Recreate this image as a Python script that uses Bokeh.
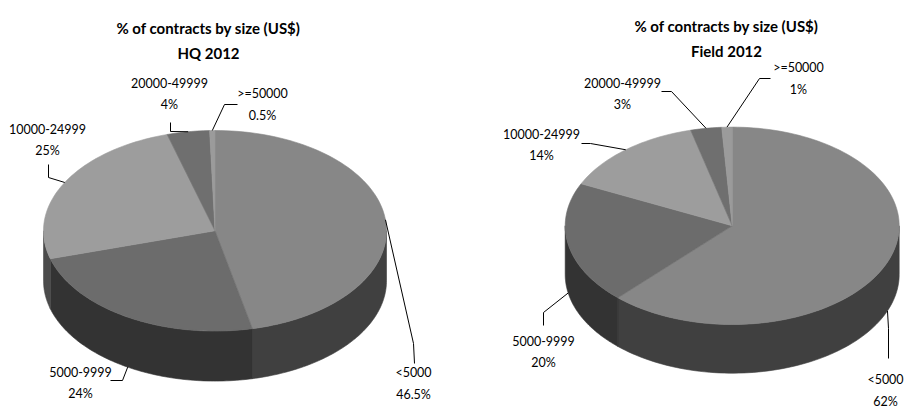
import numpy as np
from bokeh.plotting import figure
from bokeh.models import Range1d
from bokeh.core.properties import value
from bokeh.embed import file_html
from bokeh.resources import INLINE

# Contract-size categories, in the order the slices run clockwise from 12 o'clock
categories = ["<5000", "5000-9999", "10000-24999", "20000-49999", ">=50000"]
hq_share = [46.5, 24, 25, 4, 0.5]
field_share = [62, 20, 14, 3, 1]
hq_labels = ["46.5%", "24%", "25%", "4%", "0.5%"]
field_labels = ["62%", "20%", "14%", "3%", "1%"]

title_line = "% of contracts by size (US$)"
hq_title = "HQ 2012"
field_title = "Field 2012"

# Slice tops and the darker outer walls
top_colors = ["#878787", "#6c6c6c", "#9d9d9d", "#6f6f6f", "#9b9b9b"]
side_colors = ["#404040", "#333333", "#4b4b4b", "#363636", "#4a4a4a"]

FONT = "Lato"

# Pie placement (screen pixels, y grows downward)
hq_geom = dict(cx=214.5, cy=230.3, rx=171.5, ry=100.3, depth=50)
field_geom = dict(cx=731.7, cy=225.3, rx=167, ry=98.7, depth=48.7)

# Label anchors: (centre x, first line y) and leader path start + elbow
hq_label_pos = [(413, 372), (80, 371), (47, 128), (169, 82), (262, 93)]
hq_leader = [[(414, 363), (413, 343)], [(110, 380), (122, 380)],
             [(48, 164), (48, 177)], [(170, 122), (170, 131)],
             [(237, 104), (224, 104)]]
field_label_pos = [(885, 379), (543, 340), (541, 133), (622, 82), (798, 67)]
field_leader = [[(888, 358), (888, 328)], [(543, 325), (543, 312)],
                [(581, 143), (590, 143)], [(661, 91), (671, 91)],
                [(770, 78), (759, 78)]]

W, H = 906, 409
p = figure(width=W, height=H, output_backend="svg", toolbar_location=None,
           x_range=Range1d(0, W), y_range=Range1d(H, 0),
           min_border=0, outline_line_color=None, background_fill_color="white")
p.axis.visible = False
p.grid.visible = False


def ell(g, th):
    th = np.asarray(th)
    return g["cx"] + g["rx"] * np.sin(th), g["cy"] - g["ry"] * np.cos(th)


def draw_pie(g, shares, pcts, label_pos, leaders, title2, tx, ty, gap=22):
    total = float(sum(shares))
    bounds = np.concatenate([[0.0], np.cumsum(shares)]) / total * 2 * np.pi
    lo, hi = np.pi / 2, 3 * np.pi / 2  # front half of the rim is visible

    # outer walls
    wx, wy, wc = [], [], []
    for i in range(len(shares)):
        a, b = max(bounds[i], lo), min(bounds[i + 1], hi)
        if b <= a:
            continue
        th = np.linspace(a, b, 80)
        x, y = ell(g, th)
        wx.append(list(x) + list(x[::-1]))
        wy.append(list(y) + list((y + g["depth"])[::-1]))
        wc.append(side_colors[i])
    p.patches(wx, wy, fill_color=wc, line_color=wc, line_width=0.6)

    # top faces
    tx_, ty_ = [], []
    for i in range(len(shares)):
        th = np.linspace(bounds[i], bounds[i + 1], max(8, int(200 * shares[i] / total)))
        x, y = ell(g, th)
        tx_.append([g["cx"]] + list(x))
        ty_.append([g["cy"]] + list(y))
    p.patches(tx_, ty_, fill_color=top_colors, line_color=top_colors, line_width=0.6)

    # leader lines to the slice midpoints on the rim
    for i in range(len(shares)):
        mid = (bounds[i] + bounds[i + 1]) / 2
        px, py = ell(g, mid)
        if np.cos(mid) < 0:
            py = py + g["depth"]
        pts = leaders[i] + [(float(px), float(py))]
        p.line([q[0] for q in pts], [q[1] for q in pts], line_color="black", line_width=1)

    # data labels
    xs = [lp[0] for lp in label_pos]
    p.text(xs, [lp[1] for lp in label_pos], text=categories,
           text_font=value(FONT), text_font_size="12.5px", text_color="#000000",
           text_align="center", text_baseline="middle")
    p.text(xs, [lp[1] + 22 for lp in label_pos], text=pcts,
           text_font=value(FONT), text_font_size="12.5px", text_color="#000000",
           text_align="center", text_baseline="middle")

    # two-line title
    p.text([tx, tx], [ty, ty + 25], text=[title_line, title2],
           text_font=value(FONT), text_font_size="15px", text_font_style="bold",
           text_color="#000000", text_align="center", text_baseline="middle")


draw_pie(hq_geom, hq_share, hq_labels, hq_label_pos, hq_leader, hq_title, 208, 27)
draw_pie(field_geom, field_share, field_labels, field_label_pos, field_leader, field_title, 726, 25)

open("out.html", "w").write(file_html(p, INLINE))
